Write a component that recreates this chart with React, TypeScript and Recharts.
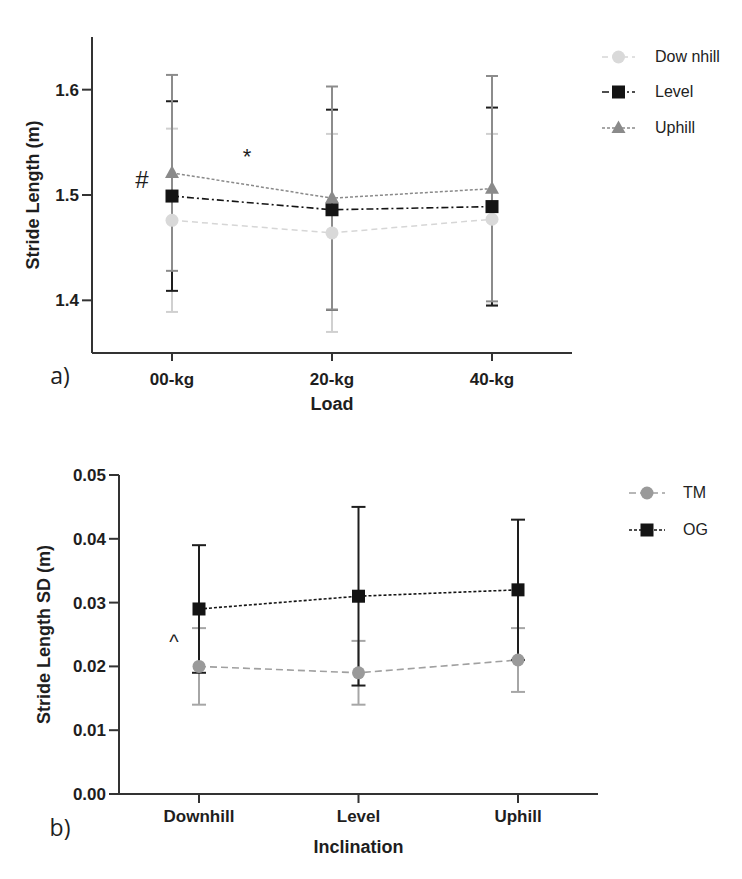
import React from 'react';
import { LineChart, Line, XAxis, YAxis, ErrorBar, Legend } from 'recharts';

// ---------- Panel a) ----------
const loadCategories = ['00-kg', '20-kg', '40-kg'];
const downhillMean = [1.476, 1.464, 1.477];
const downhillSD = [0.087, 0.094, 0.081];
const levelMean = [1.499, 1.486, 1.489];
const levelSD = [0.09, 0.095, 0.094];
const uphillMean = [1.521, 1.497, 1.506];
const uphillSD = [0.093, 0.106, 0.107];
const strideTicks = [1.4, 1.5, 1.6];

// ---------- Panel b) ----------
const inclinationCategories = ['Downhill', 'Level', 'Uphill'];
const tmMean = [0.02, 0.019, 0.021];
const tmSD = [0.006, 0.005, 0.005];
const ogMean = [0.029, 0.031, 0.032];
const ogSD = [0.01, 0.014, 0.011];
const sdTicks = [0, 0.01, 0.02, 0.03, 0.04, 0.05];

const dataA = loadCategories.map((c, i) => ({
  load: c,
  downhill: downhillMean[i],
  downhillErr: downhillSD[i],
  level: levelMean[i],
  levelErr: levelSD[i],
  uphill: uphillMean[i],
  uphillErr: uphillSD[i],
}));

const dataB = inclinationCategories.map((c, i) => ({
  incl: c,
  tm: tmMean[i],
  tmErr: tmSD[i],
  og: ogMean[i],
  ogErr: ogSD[i],
}));

const FONT = '"Liberation Sans", Arial, sans-serif';
const AXIS = '#333333';
const TEXT = '#1e1e1e';

type Kind = 'circle' | 'square' | 'triangle';
interface SeriesStyle {
  kind: Kind;
  size: number;
  fill: string;
  stroke: string;
  dash: string;
  width: number;
}

function marker(kind: Kind, cx: number, cy: number, size: number, fill: string, key?: string) {
  if (cx == null || cy == null) return <g key={key} />;
  if (kind === 'circle') return <circle key={key} cx={cx} cy={cy} r={size / 2} fill={fill} />;
  if (kind === 'square')
    return <rect key={key} x={cx - size / 2} y={cy - size / 2} width={size} height={size} fill={fill} />;
  const h = size * 0.9;
  return (
    <polygon
      key={key}
      points={`${cx},${cy - h * 0.6} ${cx - size / 2},${cy + h * 0.4} ${cx + size / 2},${cy + h * 0.4}`}
      fill={fill}
    />
  );
}

const dotRenderer = (s: SeriesStyle, id: string) => (props: any) =>
  marker(s.kind, props.cx, props.cy, s.size, s.fill, `${id}-${props.index}`);

const stylesA: Record<string, SeriesStyle> = {
  'Dow nhill': { kind: 'circle', size: 13, fill: '#d9d9d9', stroke: '#d6d6d6', dash: '6 4', width: 1.5 },
  Level: { kind: 'square', size: 13, fill: '#141414', stroke: '#141414', dash: '7 3 2 3', width: 1.6 },
  Uphill: { kind: 'triangle', size: 14, fill: '#8a8a8a', stroke: '#8a8a8a', dash: '3 2', width: 1.5 },
};

const stylesB: Record<string, SeriesStyle> = {
  TM: { kind: 'circle', size: 13, fill: '#9a9a9a', stroke: '#a0a0a0', dash: '7 4', width: 1.6 },
  OG: { kind: 'square', size: 13, fill: '#141414', stroke: '#141414', dash: '3 2', width: 1.6 },
};

const makeLegend = (styles: Record<string, SeriesStyle>, rowH: number, lineW: number, gap: number) => (props: any) => {
  const order = Object.keys(styles);
  const items = [...(props.payload || [])].sort(
    (a: any, b: any) => order.indexOf(a.value) - order.indexOf(b.value)
  );
  return (
    <div style={{ fontFamily: FONT, fontSize: 16, color: '#222' }}>
      {items.map((e: any) => {
        const s = styles[e.value];
        if (!s) return null;
        return (
          <div key={e.value} style={{ display: 'flex', alignItems: 'center', height: rowH }}>
            <svg width={lineW} height={20} style={{ display: 'block' }}>
              <line x1={0} y1={10} x2={lineW} y2={10} stroke={s.stroke} strokeWidth={1.5} strokeDasharray={s.dash} />
              {marker(s.kind, lineW / 2, 10, s.size, s.fill)}
            </svg>
            <span style={{ marginLeft: gap, whiteSpace: 'pre' }}>{e.value}</span>
          </div>
        );
      })}
    </div>
  );
};

const tickStyle = { fill: TEXT, fontSize: 17, fontWeight: 700, fontFamily: FONT };
const titleStyle = { fill: TEXT, fontSize: 18, fontWeight: 700, fontFamily: FONT, textAnchor: 'middle' as const };

const noteStyle = (left: number, top: number, size: number, weight = 400): React.CSSProperties => ({
  position: 'absolute',
  left,
  top,
  transform: 'translate(-50%, -50%)',
  fontFamily: FONT,
  fontSize: size,
  fontWeight: weight,
  lineHeight: 1,
  color: TEXT,
  whiteSpace: 'nowrap',
});

export default function App() {
  const A = stylesA;
  const B = stylesB;
  return (
    <div style={{ position: 'absolute', left: 0, top: 0, width: 742, height: 879, background: '#fff' }}>
      <div style={{ position: 'absolute', left: 0, top: 0 }}>
        <LineChart width={742} height={440} data={dataA} margin={{ top: 37, right: 170, bottom: 27, left: 32 }}>
          <XAxis
            dataKey="load"
            padding={{ left: 80, right: 80 }}
            height={60}
            tickSize={8}
            tickMargin={12}
            axisLine={{ stroke: AXIS, strokeWidth: 2 }}
            tickLine={{ stroke: AXIS, strokeWidth: 2 }}
            tick={tickStyle}
            label={{ value: 'Load', position: 'insideBottom', offset: 3, style: titleStyle }}
          />
          <YAxis
            width={60}
            type="number"
            domain={[1.35, 1.65]}
            allowDataOverflow
            ticks={strideTicks}
            tickFormatter={(v: number) => v.toFixed(1)}
            tickSize={10}
            tickMargin={3}
            axisLine={{ stroke: AXIS, strokeWidth: 2 }}
            tickLine={{ stroke: AXIS, strokeWidth: 2 }}
            tick={tickStyle}
            label={{ value: 'Stride Length (m)', angle: -90, position: 'insideLeft', offset: 1, style: titleStyle }}
          />
          <Legend
            layout="vertical"
            align="center"
            verticalAlign="middle"
            wrapperStyle={{ left: 602, top: 39, width: 140 }}
            content={makeLegend(A, 35.5, 33, 20)}
          />
          <Line
            name="Dow nhill"
            dataKey="downhill"
            stroke={A['Dow nhill'].stroke}
            strokeWidth={A['Dow nhill'].width}
            strokeDasharray={A['Dow nhill'].dash}
            dot={dotRenderer(A['Dow nhill'], 'dh')}
            activeDot={false}
            isAnimationActive={false}
          >
            <ErrorBar dataKey="downhillErr" width={6} stroke="#d0d0d0" strokeWidth={2} direction="y" isAnimationActive={false} />
          </Line>
          <Line
            name="Level"
            dataKey="level"
            stroke={A.Level.stroke}
            strokeWidth={A.Level.width}
            strokeDasharray={A.Level.dash}
            dot={dotRenderer(A.Level, 'lv')}
            activeDot={false}
            isAnimationActive={false}
          >
            <ErrorBar dataKey="levelErr" width={6} stroke="#1e1e1e" strokeWidth={2} direction="y" isAnimationActive={false} />
          </Line>
          <Line
            name="Uphill"
            dataKey="uphill"
            stroke={A.Uphill.stroke}
            strokeWidth={A.Uphill.width}
            strokeDasharray={A.Uphill.dash}
            dot={dotRenderer(A.Uphill, 'up')}
            activeDot={false}
            isAnimationActive={false}
          >
            <ErrorBar dataKey="uphillErr" width={6} stroke="#8c8c8c" strokeWidth={2} direction="y" isAnimationActive={false} />
          </Line>
        </LineChart>
      </div>

      <div style={{ position: 'absolute', left: 0, top: 440 }}>
        <LineChart width={742} height={439} data={dataB} margin={{ top: 35, right: 144, bottom: 25, left: 39 }}>
          <XAxis
            dataKey="incl"
            padding={{ left: 80, right: 80 }}
            height={60}
            tickSize={9}
            tickMargin={7}
            axisLine={{ stroke: AXIS, strokeWidth: 2 }}
            tickLine={{ stroke: AXIS, strokeWidth: 2 }}
            tick={tickStyle}
            label={{ value: 'Inclination', position: 'insideBottom', offset: 1, style: titleStyle }}
          />
          <YAxis
            width={80}
            type="number"
            domain={[0, 0.05]}
            allowDataOverflow
            ticks={sdTicks}
            tickFormatter={(v: number) => v.toFixed(2)}
            tickSize={10}
            tickMargin={3}
            axisLine={{ stroke: AXIS, strokeWidth: 2 }}
            tickLine={{ stroke: AXIS, strokeWidth: 2 }}
            tick={tickStyle}
            label={{ value: 'Stride Length SD (m)', angle: -90, position: 'insideLeft', offset: 5, style: titleStyle }}
          />
          <Legend
            layout="vertical"
            align="center"
            verticalAlign="middle"
            wrapperStyle={{ left: 629, top: 34.5, width: 113 }}
            content={makeLegend(B, 37, 36, 18)}
          />
          <Line
            name="TM"
            dataKey="tm"
            stroke={B.TM.stroke}
            strokeWidth={B.TM.width}
            strokeDasharray={B.TM.dash}
            dot={dotRenderer(B.TM, 'tm')}
            activeDot={false}
            isAnimationActive={false}
          >
            <ErrorBar dataKey="tmErr" width={7} stroke="#a6a6a6" strokeWidth={2} direction="y" isAnimationActive={false} />
          </Line>
          <Line
            name="OG"
            dataKey="og"
            stroke={B.OG.stroke}
            strokeWidth={B.OG.width}
            strokeDasharray={B.OG.dash}
            dot={dotRenderer(B.OG, 'og')}
            activeDot={false}
            isAnimationActive={false}
          >
            <ErrorBar dataKey="ogErr" width={7} stroke="#1e1e1e" strokeWidth={2} direction="y" isAnimationActive={false} />
          </Line>
        </LineChart>
      </div>

      <div style={noteStyle(142, 180, 24)}>#</div>
      <div style={noteStyle(247, 157, 22)}>*</div>
      <div style={noteStyle(174, 642, 20)}>^</div>
      <div style={{ ...noteStyle(60, 375, 23), fontFamily: '"Open Sans", sans-serif' }}>a)</div>
      <div style={{ ...noteStyle(60, 827, 23), fontFamily: '"Open Sans", sans-serif' }}>b)</div>
    </div>
  );
}
